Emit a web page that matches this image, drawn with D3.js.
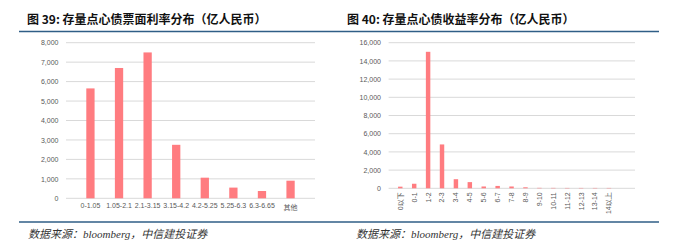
<!DOCTYPE html>
<html>
<head>
<meta charset="utf-8">
<script src="https://cdn.jsdelivr.net/npm/d3@7"></script>
<style>
  body { margin: 0; background: #fff; }
  svg { display: block; }
</style>
</head>
<body>
<svg width="677" height="249"></svg>
<script>
// 左图：票面利率分布
const couponCats = ["0-1.05", "1.05-2.1", "2.1-3.15", "3.15-4.2", "4.2-5.25", "5.25-6.3", "6.3-6.65", "其他"];
const couponVals = [5650, 6700, 7500, 2750, 1060, 550, 375, 905];
const couponTicks = [0, 1000, 2000, 3000, 4000, 5000, 6000, 7000, 8000];

// 右图：收益率分布
const yieldCats = ["0以下", "0-1", "1-2", "2-3", "3-4", "4-5", "5-6", "6-7", "7-8", "8-9", "9-10", "10-11", "11-12", "12-13", "13-14", "14以上"];
const yieldVals = [180, 500, 15000, 4820, 1000, 680, 200, 260, 200, 110, 50, 45, 40, 40, 40, 40];
const yieldTicks = [0, 2000, 4000, 6000, 8000, 10000, 12000, 14000, 16000];

const titles = ["图 39: 存量点心债票面利率分布（亿人民币）", "图 40: 存量点心债收益率分布（亿人民币）"];
const source = "数据来源：bloomberg，中信建投证券";

const svg = d3.select("svg");
const barColor = "#ff7c80";
const lineColor = "#2f5e86";
const tickFont = "Arial, 'Liberation Sans', 'Noto Sans CJK SC', sans-serif";
const cjkFont = "'Noto Sans CJK SC', sans-serif";

// 顶部和底部的蓝线
svg.append("line").attr("x1", 19).attr("x2", 659).attr("y1", 31.5).attr("y2", 31.5)
    .attr("stroke", lineColor).attr("stroke-width", 1.6);
svg.append("line").attr("x1", 19).attr("x2", 659).attr("y1", 222).attr("y2", 222)
    .attr("stroke", lineColor).attr("stroke-width", 1.6);

// 标题
[[27, titles[0]], [347, titles[1]]].forEach(([x, t]) => {
    svg.append("text").attr("x", x).attr("y", 24)
        .attr("font-family", cjkFont).attr("font-weight", "bold")
        .attr("font-size", 12).attr("fill", "#111").text(t);
});

// 数据来源
[28, 356].forEach(x => {
    svg.append("text").attr("x", x).attr("y", 237.5)
        .attr("font-family", "'Liberation Serif', 'Noto Sans CJK SC', serif")
        .attr("font-style", "italic").attr("font-size", 11).attr("fill", "#333")
        .text(source);
});

const drawChart = (cfg) => {
    const g = svg.append("g");
    const x = d3.scaleBand().domain(cfg.cats).range([cfg.x0, cfg.x1]).padding(cfg.pad);
    const y = d3.scaleLinear().domain([0, cfg.max]).range([cfg.y0, cfg.y1]);

    // 网格线
    g.selectAll(".grid").data(cfg.ticks).enter().append("line")
        .attr("x1", cfg.x0).attr("x2", cfg.gridEnd)
        .attr("y1", d => y(d)).attr("y2", d => y(d))
        .attr("stroke", "#d9d9d9").attr("stroke-width", 1);

    // y 轴标签
    const yAxis = d3.axisLeft(y).tickValues(cfg.ticks).tickSize(0).tickPadding(0)
        .tickFormat(d3.format(","));
    const ya = g.append("g").attr("transform", `translate(${cfg.labelX},0)`).call(yAxis);
    ya.select(".domain").remove();
    ya.selectAll("text").attr("font-family", tickFont).attr("font-size", 7).attr("fill", "#595959");

    // 柱子
    g.selectAll(".bar").data(cfg.vals).enter().append("rect")
        .attr("x", (d, i) => x(cfg.cats[i]))
        .attr("width", x.bandwidth())
        .attr("y", d => y(d))
        .attr("height", d => y(0) - y(d))
        .attr("fill", barColor);

    // x 轴标签
    const xAxis = d3.axisBottom(x).tickSize(0).tickPadding(0);
    const xa = g.append("g").attr("transform", `translate(0,${cfg.y0 + 3})`).call(xAxis);
    xa.select(".domain").remove();
    xa.selectAll("text").attr("font-family", tickFont).attr("font-size", 7).attr("fill", "#595959");
    if (cfg.rotate) {
        xa.selectAll("text")
            .attr("transform", "rotate(-90)")
            .attr("dy", "0.35em").attr("x", -1).attr("y", 0)
            .attr("text-anchor", "end");
    } else {
        xa.selectAll("text").attr("dy", d => d === "其他" ? "1.3em" : "0.9em");
    }
};

drawChart({
    cats: couponCats, vals: couponVals, ticks: couponTicks, max: 8000,
    x0: 66, x1: 315, gridEnd: 315, y0: 198.3, y1: 42.7, labelX: 58.5, pad: 0.71, rotate: false
});

drawChart({
    cats: yieldCats, vals: yieldVals, ticks: yieldTicks, max: 16000,
    x0: 388.6, x1: 620.6, gridEnd: 635, y0: 188.3, y1: 42.7, labelX: 381, pad: 0.68, rotate: true
});
</script>
</body>
</html>
